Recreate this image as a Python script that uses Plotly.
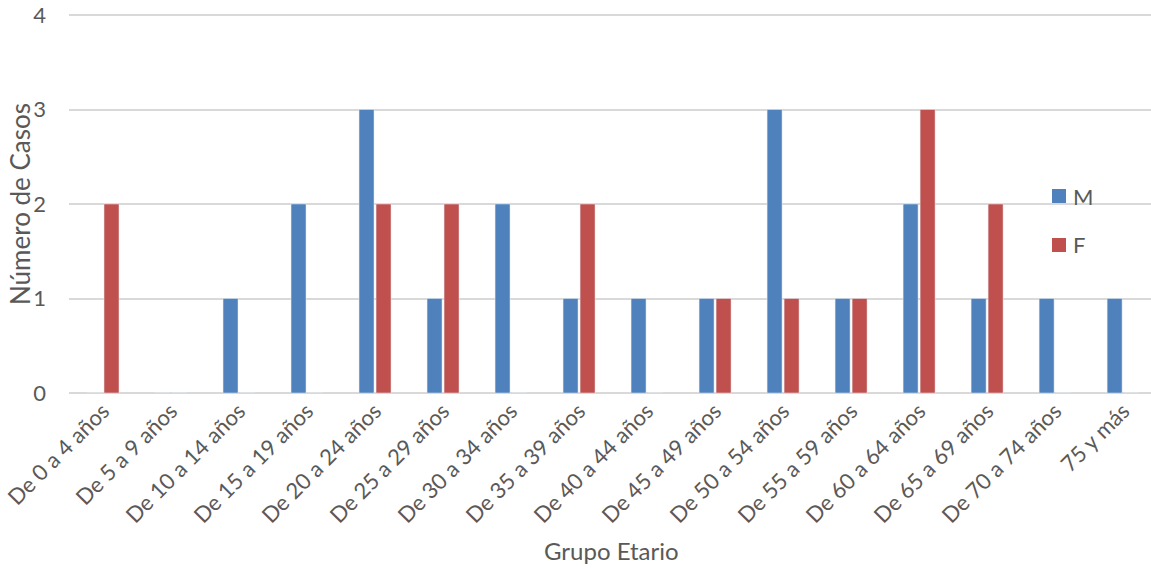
import plotly.graph_objects as go

# Age groups and case counts by sex
grupos = ["De 0 a 4 años", "De 5 a 9 años", "De 10 a 14 años", "De 15 a 19 años",
          "De 20 a 24 años", "De 25 a 29 años", "De 30 a 34 años", "De 35 a 39 años",
          "De 40 a 44 años", "De 45 a 49 años", "De 50 a 54 años", "De 55 a 59 años",
          "De 60 a 64 años", "De 65 a 69 años", "De 70 a 74 años", "75 y más"]
casos_m = [0, 0, 1, 2, 3, 1, 2, 1, 1, 1, 3, 1, 2, 1, 1, 1]
casos_f = [2, 0, 0, 0, 2, 2, 0, 2, 0, 1, 1, 1, 3, 2, 0, 0]
series = [("M", casos_m, "#4F81BD"), ("F", casos_f, "#C0504D")]

W, H = 1151, 569
# plot box: value 0 at y=393 px, value 4 at y=15 px (94.5 px per case),
# with a little headroom so the top gridline is drawn inside the box
UNIT = 94.5
HEAD = 4.0
ML, MR, MB = 69, 0, 176
MT = 15 - HEAD
YMAX = 4 + HEAD / UNIT
PW, PH = W - ML - MR, H - MT - MB
TXT = "#595959"
FONT = "Lato, 'Open Sans', sans-serif"


def px_x(x):
    return (x - ML) / PW


def px_y(y):
    return (H - MB - y) / PH


fig = go.Figure()
for name, vals, col in series:
    fig.add_trace(go.Bar(x=grupos, y=vals, name=name, marker_color=col,
                         showlegend=False))

fig.update_layout(
    width=W, height=H,
    margin=dict(l=ML, r=MR, t=MT, b=MB, pad=0),
    paper_bgcolor="white", plot_bgcolor="white",
    barmode="group", bargap=0.5, bargroupgap=0.12,
    font=dict(family=FONT, color=TXT, size=22),
    xaxis=dict(range=[-0.5, 15.41], tickangle=-45, showgrid=False,
               showline=False, ticks="", tickfont=dict(size=22, color=TXT)),
    yaxis=dict(range=[0, YMAX], tickvals=[0, 1, 2, 3, 4], showgrid=True,
               gridcolor="#D9D9D9", gridwidth=1.5, zeroline=True,
               zerolinecolor="#D9D9D9", zerolinewidth=1.5, showline=False,
               ticks="", ticklabelstandoff=22,
               tickfont=dict(size=22, color=TXT)),
)

# Axis titles
fig.add_annotation(text="Número de Casos", xref="paper", yref="paper",
                   x=px_x(20), y=px_y(204), xanchor="center", yanchor="middle",
                   textangle=-90, showarrow=False,
                   font=dict(size=26, color=TXT))
fig.add_annotation(text="Grupo Etario", xref="paper", yref="paper",
                   x=px_x(611), y=px_y(550), xanchor="center", yanchor="middle",
                   showarrow=False, font=dict(size=24, color=TXT))

# Legend: colour keys with labels
for i, (name, _, col) in enumerate(series):
    cy = 196 + 49 * i
    fig.add_shape(type="rect", xref="paper", yref="paper",
                  x0=px_x(1052), x1=px_x(1066), y0=px_y(cy - 7), y1=px_y(cy + 7),
                  fillcolor=col, line=dict(width=0))
    fig.add_annotation(text=name, xref="paper", yref="paper",
                       x=px_x(1071), y=px_y(cy), xanchor="left", yanchor="middle",
                       showarrow=False, font=dict(size=22, color=TXT))

fig.write_html("out.html")
